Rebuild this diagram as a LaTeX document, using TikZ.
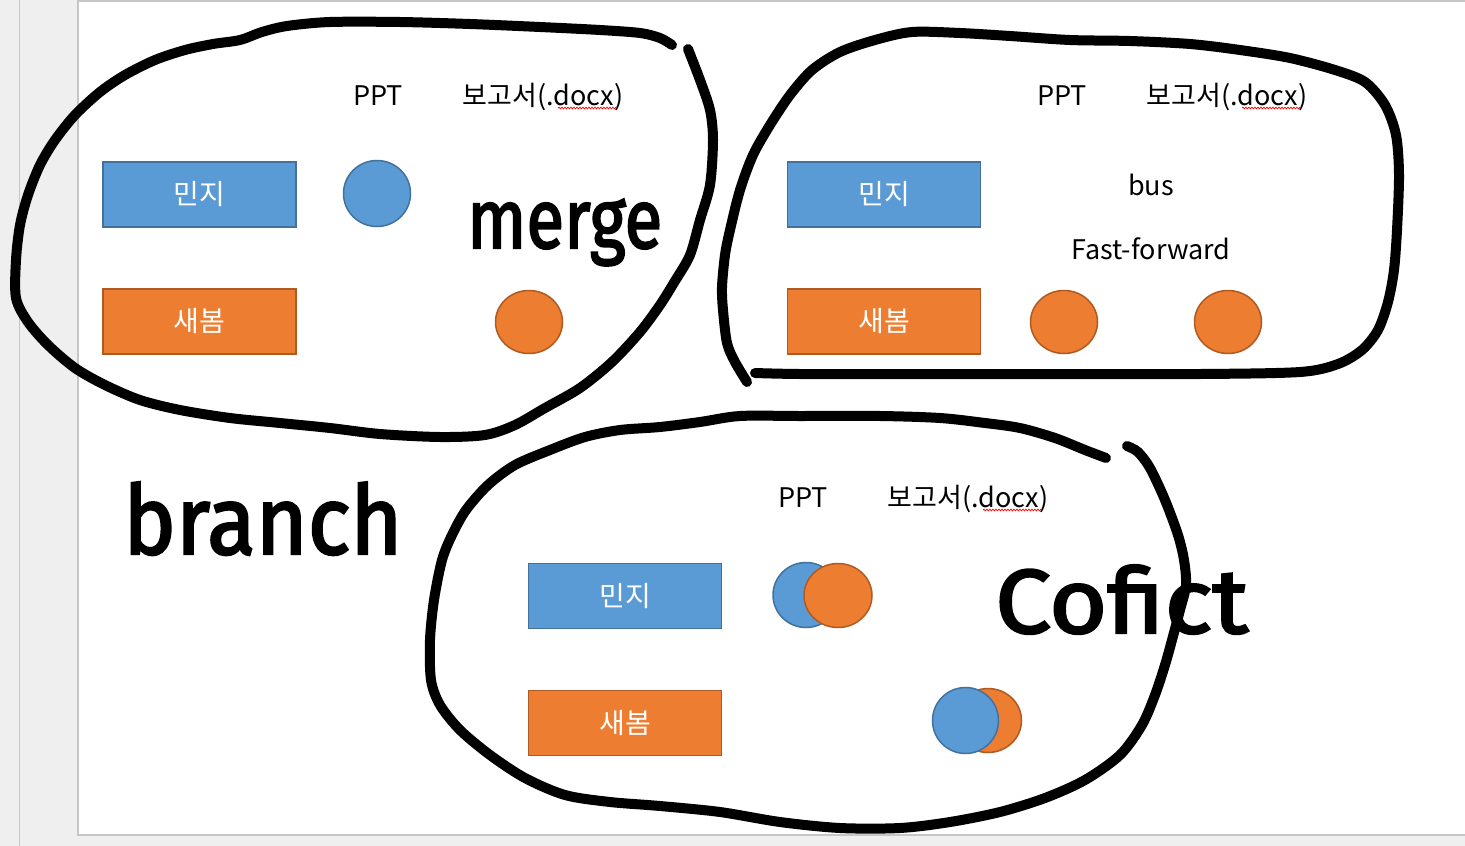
\documentclass[tikz,border=0pt]{standalone}
\usepackage{fontspec}
\setmainfont{Noto Sans CJK KR}
\newfontfamily\inkfont[FakeBold=2.5]{Fira Sans}
\usetikzlibrary{shapes.geometric,decorations.pathmorphing}
\definecolor{blueF}{HTML}{5B9BD5}
\definecolor{blueD}{HTML}{41719C}
\definecolor{orangeF}{HTML}{ED7D31}
\definecolor{orangeD}{HTML}{AE5A21}
\definecolor{bgGray}{HTML}{EFEFEF}
\definecolor{edgeGray}{HTML}{C6C6C6}
\begin{document}
\begin{tikzpicture}[x=1pt,y=-1pt,
  lbl/.style={font=\fontsize{27}{30}\selectfont, inner sep=0, anchor=base},
  boxbase/.style={line width=1.8pt, minimum width=193pt, minimum height=65pt, text=white, font=\fontsize{28}{30}\selectfont, inner sep=0},
  boxB/.style={boxbase, draw=blueD, fill=blueF},
  boxO/.style={boxbase, draw=orangeD, fill=orangeF},
  dotB/.style={ellipse, draw=blueD, fill=blueF, line width=1.5pt, inner sep=0},
  dotO/.style={ellipse, draw=orangeD, fill=orangeF, line width=1.5pt, inner sep=0},
  ink/.style={line width=10pt, line cap=round, line join=round, black},
  inktext/.style={inner sep=0, anchor=base west},
  squig/.style={red, line width=0.7pt, decorate, decoration={snake, amplitude=0.9pt, segment length=3pt}}
]
\useasboundingbox (0,0) rectangle (1465,846);
% window background
\fill[bgGray] (0,0) rectangle (1465,846);
\draw[edgeGray, line width=1.5pt] (19.5,0) -- (19.5,846);
\draw[edgeGray, fill=white, line width=1.2pt] (78,1) rectangle (1475,835);

% ---------- panel 1 (merge) ----------
\node[lbl] (p1ppt) at (378,105) {PPT};
\node[lbl] (p1doc) at (543,105) {보고서(.docx)};
\draw[squig] (558,108) -- (617,108);
\node[boxB] (p1m) at (199.5,194.5) {민지};
\node[boxO] (p1s) at (199.5,321.5) {새봄};
\node[dotB, minimum width=67pt, minimum height=66pt] (p1c1) at (377,193.5) {};
\node[dotO, minimum width=67pt, minimum height=63pt] (p1c2) at (529,322) {};
\node[inktext] (merge) at (467,248) {\resizebox{195pt}{49pt}{\inkfont merge}};

% ---------- panel 2 (fast-forward) ----------
\node[lbl] (p2ppt) at (1062,105) {PPT};
\node[lbl] (p2doc) at (1227,105) {보고서(.docx)};
\draw[squig] (1242,108) -- (1301,108);
\node[boxB] (p2m) at (884,194.5) {민지};
\node[boxO] (p2s) at (884,321.5) {새봄};
\node[lbl] (bus) at (1151,195) {bus};
\node[lbl] (ff) at (1151,259) {Fast-forward};
\node[dotO, minimum width=67pt, minimum height=63pt] (p2c1) at (1064,322) {};
\node[dotO, minimum width=67pt, minimum height=63pt] (p2c2) at (1228,322) {};

% ---------- panel 3 (conflict) ----------
\node[lbl] (p3ppt) at (803,507) {PPT};
\node[lbl] (p3doc) at (968,507) {보고서(.docx)};
\draw[squig] (983,510) -- (1042,510);
\node[boxB] (p3m) at (625,596) {민지};
\node[boxO] (p3s) at (625,723) {새봄};
\node[dotB, minimum width=66pt, minimum height=65pt] (p3c1) at (806,595) {};
\node[dotO, minimum width=68pt, minimum height=64pt] (p3c2) at (838,595.5) {};
\node[dotO, minimum width=67pt, minimum height=64pt] (p3c3) at (988,720.5) {};
\node[dotB, minimum width=66pt, minimum height=66pt] (p3c4) at (965.5,720.5) {};
\node[inktext] (conf) at (995,633) {\resizebox{253pt}{68pt}{\inkfont Cofict}};

% ---------- handwritten label ----------
\node[inktext] (branch) at (123,554) {\resizebox{279pt}{72pt}{\inkfont branch}};

% ---------- ink outlines ----------
\draw[ink] plot[smooth] coordinates {(672,45) (660,38) (640,33) (600,30) (540,27) (470,24) (400,22) (330,22) (287,26) (262,32) (240,40) (213,44) (185,50) (155,60) (125,75) (100,92) (75,115) (55,140) (40,165) (28,195) (20,225) (16,260) (16,298) (28,322) (48,345) (75,368) (105,385) (140,400) (180,410) (230,418) (280,423) (330,428) (380,434) (440,437) (485,435) (515,425) (545,408) (580,388) (612,362) (640,332) (660,305) (675,281) (690,255) (700,220) (710,185) (713,140) (710,110) (700,80) (688,49)};
\draw[ink] plot[smooth] coordinates {(747,382) (735,362) (727,343) (723,310) (722,287) (725,255) (730,230) (740,190) (753,155) (770,125) (790,95) (812,70) (840,52) (875,40) (912,32) (960,33) (1010,36) (1070,40) (1130,41) (1190,44) (1240,50) (1290,58) (1335,70) (1365,82) (1385,105) (1396,135) (1399,175) (1397,230) (1394,270) (1388,302) (1378,330) (1362,350) (1338,364) (1300,372) (1200,374) (1050,374) (900,374) (800,374) (755,373)};
\draw[ink] plot[smooth] coordinates {(1106,458) (1085,450) (1055,438) (1020,428) (985,423) (940,418) (880,416) (800,416) (740,416) (700,422) (660,427) (620,430) (585,437) (550,450) (515,465) (488,485) (466,510) (452,535) (442,560) (434,600) (430,640) (431,680) (440,705) (460,730) (490,755) (525,778) (565,795) (610,802) (660,806) (720,812) (780,822) (840,828) (900,828) (950,822) (1000,812) (1045,798) (1085,780) (1120,755) (1142,725) (1155,695) (1165,665) (1172,640) (1180,610) (1186,585) (1184,560) (1178,535) (1165,500) (1150,468) (1138,452) (1127,446)};
\end{tikzpicture}
\end{document}
